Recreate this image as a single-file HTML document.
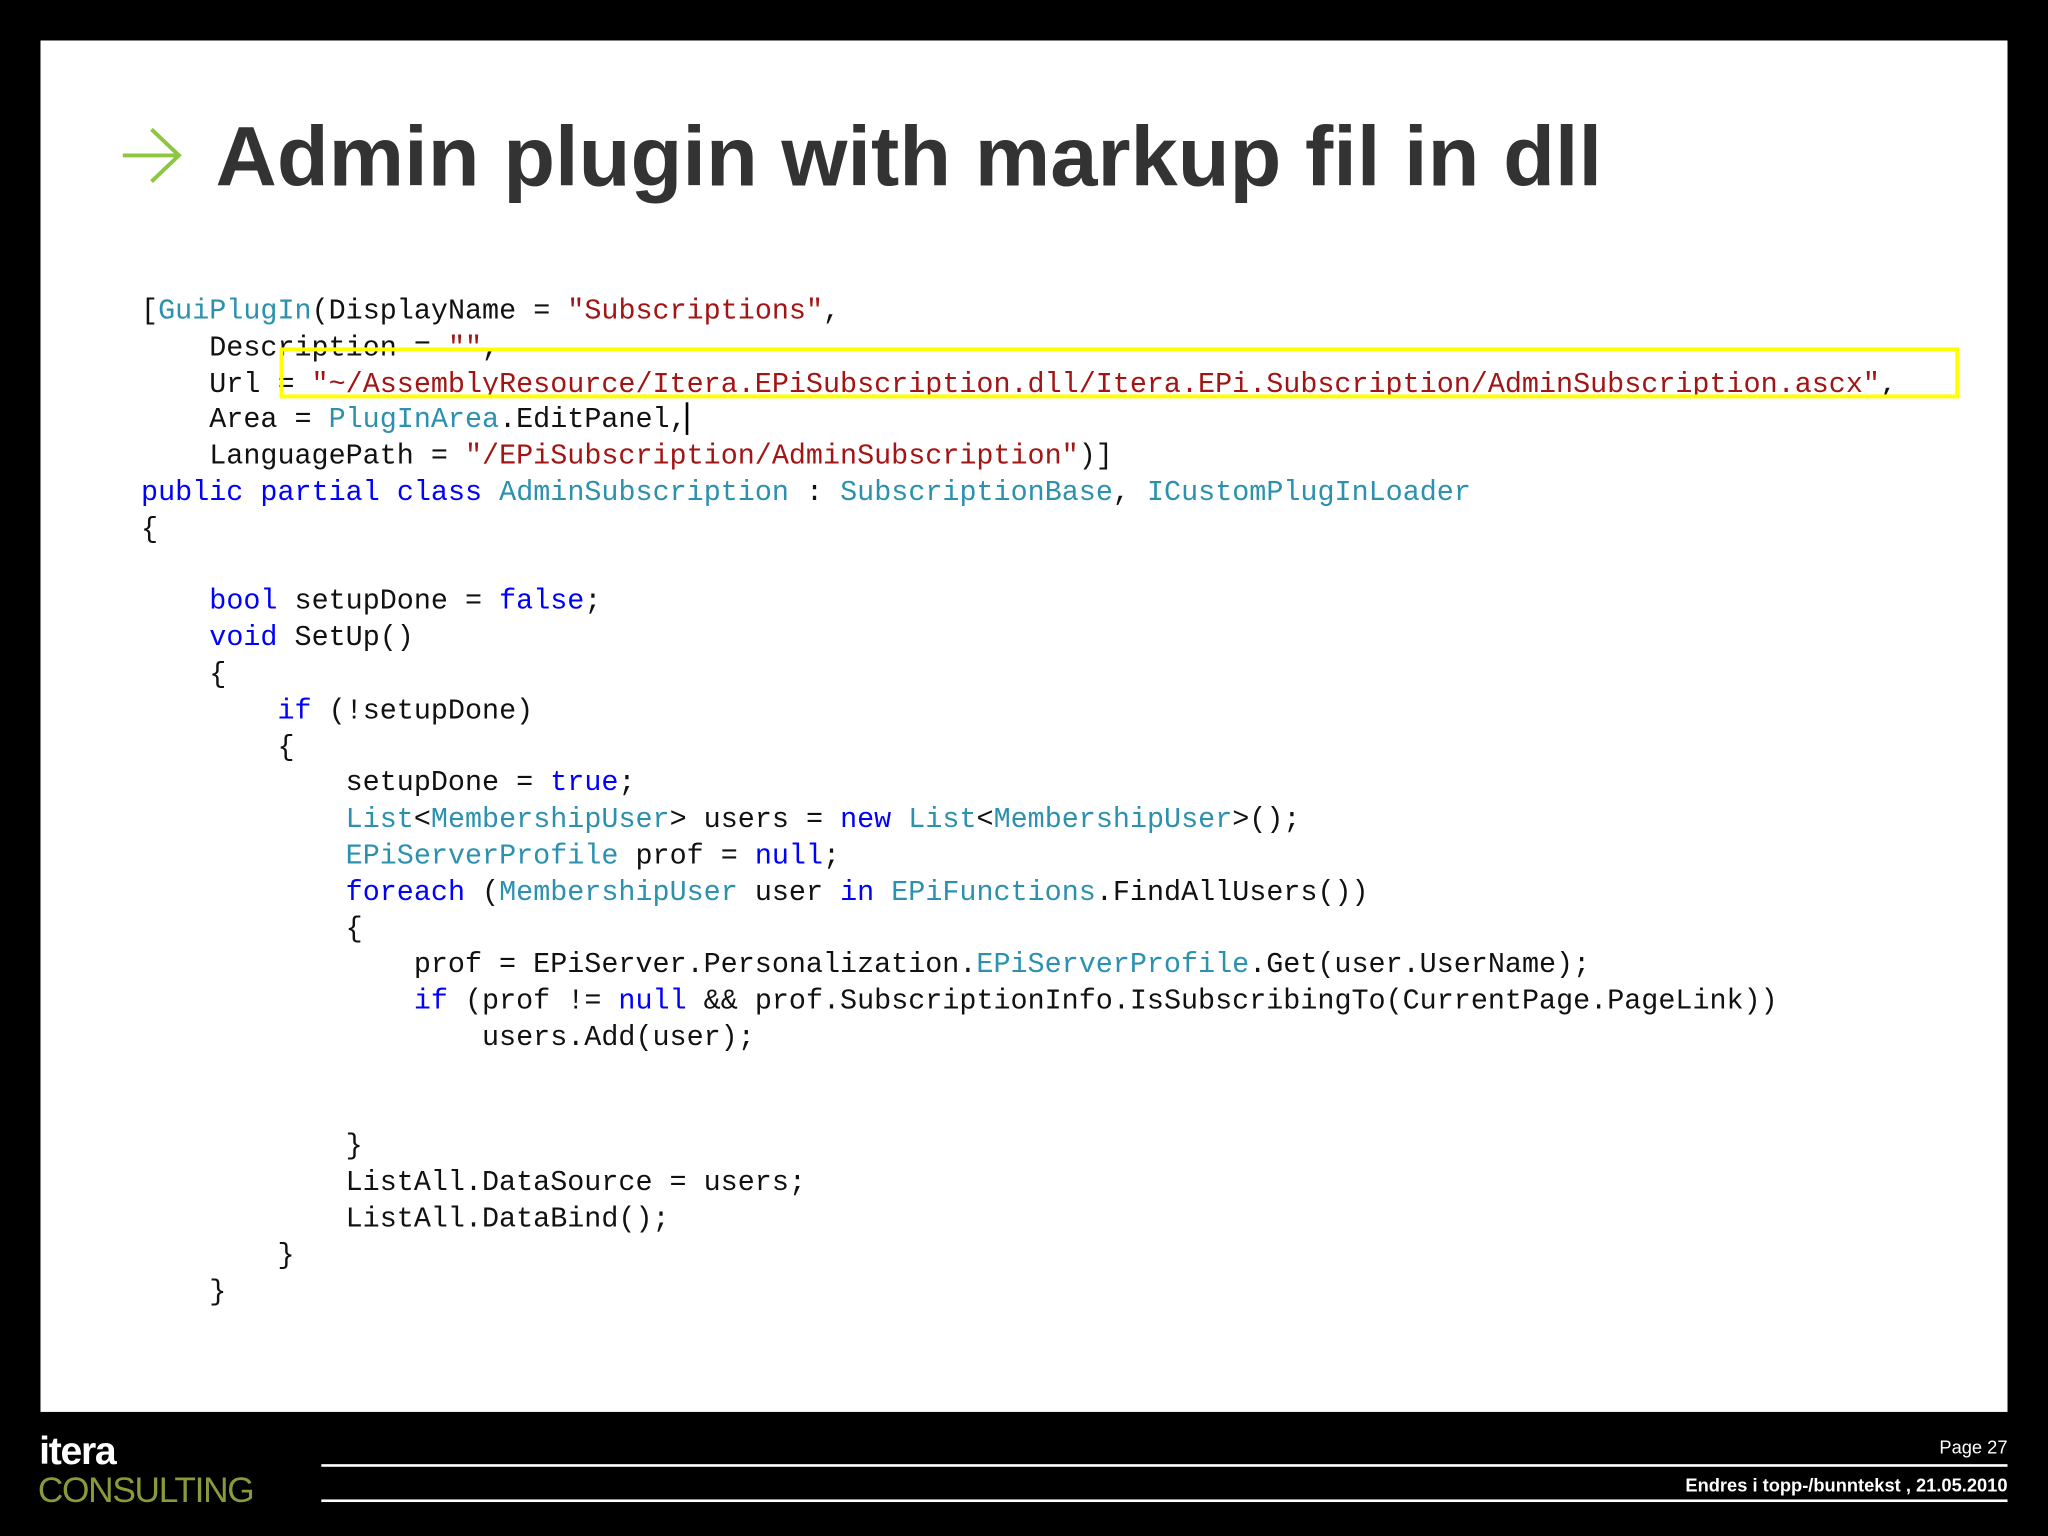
<!DOCTYPE html>
<html><head><meta charset="utf-8"><style>
html,body{margin:0;padding:0;background:#000;width:2048px;height:1536px;overflow:hidden}
#w{position:absolute;left:0;top:0;width:1568px;height:1176px;transform:scale(1.306122);transform-origin:0 0;font-family:"Liberation Sans",sans-serif}
#panel{position:absolute;left:31px;top:31px;width:1506px;height:1050px;background:#fff}
#title{position:absolute;left:165px;top:82px;font-size:65px;font-weight:bold;color:#333;white-space:nowrap}
pre{position:absolute;left:108px;top:225px;margin:0;font-family:"Liberation Mono",monospace;font-size:21.75px;line-height:27.8px;color:#111}
.k{color:#0000ff}.t{color:#2b91af}.s{color:#a31515}
#box{position:absolute;left:214px;top:266px;width:1280px;height:33px;border:3px solid #ffff00}
#cur{position:absolute;left:525px;top:308px;width:2px;height:25px;background:#000}
.ln{position:absolute;left:246px;width:1291px;height:2px;background:#fff}
.ft{position:absolute;right:31px;color:#fff;font-size:14px}
</style></head><body><div id="w">
<div id="panel"></div>
<svg style="position:absolute;left:92px;top:96px" width="50" height="46"><path d="M2 23 H44 M24 3 L45 23 L24 43" stroke="#8dc63f" stroke-width="3" fill="none"/></svg>
<div id="title">Admin plugin with markup fil in dll</div>
<pre>[<span class="t">GuiPlugIn</span>(DisplayName = <span class="s">"Subscriptions"</span>,
    Description = <span class="s">""</span>,
    Url = <span class="s">"~/AssemblyResource/Itera.EPiSubscription.dll/Itera.EPi.Subscription/AdminSubscription.ascx"</span>,
    Area = <span class="t">PlugInArea</span>.EditPanel,
    LanguagePath = <span class="s">"/EPiSubscription/AdminSubscription"</span>)]
<span class="k">public</span> <span class="k">partial</span> <span class="k">class</span> <span class="t">AdminSubscription</span> : <span class="t">SubscriptionBase</span>, <span class="t">ICustomPlugInLoader</span>
{

    <span class="k">bool</span> setupDone = <span class="k">false</span>;
    <span class="k">void</span> SetUp()
    {
        <span class="k">if</span> (!setupDone)
        {
            setupDone = <span class="k">true</span>;
            <span class="t">List</span>&lt;<span class="t">MembershipUser</span>&gt; users = <span class="k">new</span> <span class="t">List</span>&lt;<span class="t">MembershipUser</span>&gt;();
            <span class="t">EPiServerProfile</span> prof = <span class="k">null</span>;
            <span class="k">foreach</span> (<span class="t">MembershipUser</span> user <span class="k">in</span> <span class="t">EPiFunctions</span>.FindAllUsers())
            {
                prof = EPiServer.Personalization.<span class="t">EPiServerProfile</span>.Get(user.UserName);
                <span class="k">if</span> (prof != <span class="k">null</span> &amp;&amp; prof.SubscriptionInfo.IsSubscribingTo(CurrentPage.PageLink))
                    users.Add(user);


            }
            ListAll.DataSource = users;
            ListAll.DataBind();
        }
    }</pre>
<div id="box"></div>
<div id="cur"></div>
<div style="position:absolute;left:30px;top:1095px;color:#fff;font-size:30px;font-weight:bold;letter-spacing:-1px">itera</div>
<div style="position:absolute;left:29px;top:1126px;color:#8a9a3a;font-size:27px;letter-spacing:-1px">CONSULTING</div>
<div class="ln" style="top:1121px"></div>
<div class="ln" style="top:1148px"></div>
<div class="ft" style="top:1100px">Page 27</div>
<div class="ft" style="top:1129px;font-weight:bold">Endres i topp-/bunntekst , 21.05.2010</div>
</div></body></html>
